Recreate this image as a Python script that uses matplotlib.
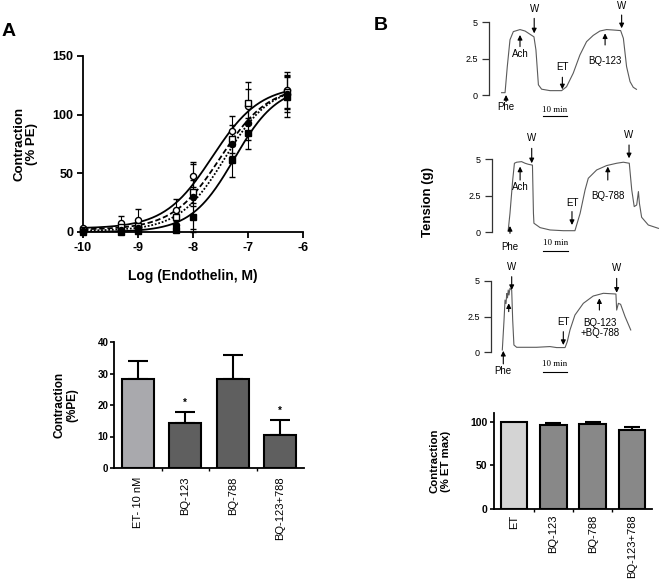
import matplotlib
matplotlib.use("Agg")
import matplotlib.pyplot as plt
import numpy as np

plt.rcParams['font.family'] = ['Liberation Sans', 'DejaVu Sans']
plt.rcParams['axes.unicode_minus'] = False

# ---------------- Data ----------------
log_conc = [-10, -9.3, -9, -8.3, -8, -7.3, -7, -6.3]
open_circle = [3, 8, 10.5, 18.7, 48, 86, 107, 121]
open_circle_err = [1, 6, 9, 9, 10, 13, 15, 15]
open_square = [2, 4, 5, 13, 34.5, 79, 110, 119]
open_square_err = [1, 4, 5, 6, 10, 12, 18, 14]
filled_circle = [1, 2, 3, 6, 30, 75, 92.5, 118]
filled_circle_err = [1, 3, 4, 5, 30, 10, 14, 16]
filled_square = [0, 0, 0.5, 2, 12.5, 61, 84, 115]
filled_square_err = [0.5, 1, 1, 2, 10, 14, 13, 17]

# Hill-fit parameters (bottom, top, logEC50, slope)
fit_open_circle = [3, 125, -7.65, 1.0]
fit_open_square = [2, 125, -7.5, 1.0]
fit_filled_circle = [1, 125, -7.42, 1.05]
fit_filled_square = [0, 125, -7.25, 1.1]

barA_labels = ["ET- 10 nM", "BQ-123", "BQ-788", "BQ-123+788"]
barA_values = [28.3, 14.3, 28.1, 10.5]
barA_err = [5.7, 3.6, 7.7, 4.7]
barA_star = [False, True, False, True]

barB_labels = ["ET", "BQ-123", "BQ-788", "BQ-123+788"]
barB_values = [100, 96.3, 97.5, 90.5]
barB_err = [0, 1.8, 1.8, 3.6]

# Tension traces (time in min, tension in g)
trace1_t = [5.1, 6.5, 7.4, 8.5, 9.85, 12.55, 14.6, 17.3, 18.2, 19.0, 20.0, 21.3, 24.7, 29.4,
            31.4, 34.1, 36.8, 39.5, 42.2, 44.9, 47.6, 50.3, 53.3, 54.4, 55.7, 57.1, 58.4, 59.7]
trace1_v = [0.16, 0.16, 1.95, 3.8, 4.36, 4.5, 4.4, 4.1, 4.0, 3.1, 0.7, 0.4, 0.3, 0.3,
            0.57, 1.5, 2.75, 3.67, 4.1, 4.4, 4.5, 4.47, 4.43, 3.9, 1.95, 0.92, 0.53, 0.39]
trace2_t = [6.7, 7.4, 8.5, 9.2, 10.1, 12.1, 13.5, 14.8, 16.5, 16.9, 17.1, 19.6, 23.6, 29.0,
            33.7, 35.8, 37.8, 39.1, 42.5, 46.5, 50.6, 53.3, 55.7, 56.7, 57.7, 58.7, 59.4,
            59.8, 60.7, 63.4, 67.5]
trace2_v = [0.16, 1.3, 3.58, 4.73, 4.8, 4.84, 4.73, 4.66, 4.6, 1.3, 0.62, 0.32, 0.16, 0.11,
            0.11, 1.3, 2.9, 3.7, 4.27, 4.57, 4.73, 4.8, 4.73, 2.9, 1.76, 1.87, 2.79,
            1.99, 1.03, 0.5, 0.27]
trace3_t = [4.7, 5.4, 5.8, 6.2, 6.5, 6.8, 7.1, 7.4, 7.8, 8.5, 8.9, 9.4, 10.5, 18.6, 24.0,
            26.7, 30.1, 31.0, 32.1, 34.1, 37.5, 41.5, 45.6, 50.7, 51.0, 51.7, 52.6, 54.4, 56.7]
trace3_v = [0.16, 2.26, 3.65, 3.4, 4.1, 3.8, 4.35, 4.0, 4.47, 4.35, 2.26, 0.51, 0.35, 0.35, 0.4,
            0.33, 0.33, 0.74, 1.56, 2.6, 3.42, 3.93, 4.12, 4.07, 2.95, 3.42, 3.35, 2.49, 1.56]

# ---------------- Figure ----------------
W, H = 661, 580
fig = plt.figure(figsize=(W / 100, H / 100), dpi=100)


def add_ax(left, top, right, bottom):
    return fig.add_axes([left / W, (H - bottom) / H, (right - left) / W, (bottom - top) / H])


def hill(x, p):
    b, t, ec, s = p
    return b + (t - b) / (1 + 10 ** ((ec - x) * s))


# ---- Panel A: concentration-response ----
ax1 = add_ax(83, 56, 303, 232)
xs = np.linspace(-10, -6.3, 200)
ax1.plot(xs, hill(xs, fit_open_circle), color='black', lw=1.3, ls='-')
ax1.plot(xs, hill(xs, fit_open_square), color='black', lw=1.3, ls=(0, (3, 1.5)))
ax1.plot(xs, hill(xs, fit_filled_circle), color='black', lw=1.3, ls=(0, (1, 1)))
ax1.plot(xs, hill(xs, fit_filled_square), color='black', lw=1.3, ls='-')
series = [(open_circle, open_circle_err, 'o', 'white'),
          (open_square, open_square_err, 's', 'white'),
          (filled_circle, filled_circle_err, 'o', 'black'),
          (filled_square, filled_square_err, 's', 'black')]
for vals, errs, mk, fc in series:
    ax1.errorbar(log_conc, vals, yerr=errs, fmt=mk, ms=4.4, mfc=fc, mec='black', mew=1.0,
                 ecolor='black', elinewidth=0.8, capsize=2.2, capthick=0.8, clip_on=False, zorder=3)
ax1.set_xlim(-10, -6)
ax1.set_ylim(0, 150)
ax1.set_xticks([-10, -9, -8, -7, -6])
ax1.set_yticks([0, 50, 100, 150])
for s in ['top', 'right']:
    ax1.spines[s].set_visible(False)
for s in ['left', 'bottom']:
    ax1.spines[s].set_linewidth(1.3)
ax1.tick_params(width=1.3, length=4, labelsize=9, pad=3)
for lab in ax1.get_xticklabels() + ax1.get_yticklabels():
    lab.set_fontweight('bold')
ax1.set_xlabel("Log (Endothelin, M)", fontsize=10, fontweight='bold', labelpad=11)
ax1.set_ylabel("Contraction\n(% PE)", fontsize=9.5, fontweight='bold', labelpad=10, linespacing=1.1)

# ---- Panel A: bars ----
ax2 = add_ax(114, 342, 304, 468)
xpos = np.arange(len(barA_labels))
ax2.bar(xpos, barA_values, width=0.67, color=['#a9a9ad', '#5f5f5f', '#5f5f5f', '#5f5f5f'],
        edgecolor='black', linewidth=1.5, zorder=2)
ax2.errorbar(xpos, barA_values, yerr=[[0] * 4, barA_err], fmt='none', ecolor='black',
             elinewidth=1.5, capsize=7, capthick=1.5, zorder=1)
for x, v, e, st in zip(xpos, barA_values, barA_err, barA_star):
    if st:
        ax2.text(x, v + e + 1.2, "*", ha='center', va='bottom', fontsize=7, fontweight='bold')
ax2.set_xlim(-0.5, 3.5)
ax2.set_ylim(0, 40)
ax2.set_yticks([0, 10, 20, 30, 40])
ax2.set_xticks(xpos)
ax2.set_xticklabels(barA_labels, rotation=90, fontsize=8)
ax2.set_xticks([0.5, 1.5, 2.5], minor=True)
ax2.tick_params(axis='x', which='major', length=0, pad=6)
ax2.tick_params(axis='x', which='minor', length=2, width=1)
ax2.tick_params(axis='y', length=3, width=1.2, labelsize=7, pad=1)
for lab in ax2.get_yticklabels():
    lab.set_fontweight('bold')
for s in ['top', 'right']:
    ax2.spines[s].set_visible(False)
for s in ['left', 'bottom']:
    ax2.spines[s].set_linewidth(1.3)
ax2.set_ylabel("Contraction\n(%PE)", fontsize=8.5, fontweight='bold', labelpad=14, linespacing=1.1)

# ---- Panel B: traces ----
trace_color = '#5a5a5a'


def trace_axes(left, y0, y5):
    ax = add_ax(left, y5, left + 69 * 2.47, y0)
    ax.set_xlim(0, 69)
    ax.set_ylim(0, 5)
    for s in ['top', 'right', 'bottom']:
        ax.spines[s].set_visible(False)
    ax.spines['left'].set_linewidth(0.9)
    ax.spines['left'].set_color('#333333')
    ax.set_xticks([])
    ax.set_yticks([0, 2.5, 5])
    ax.set_yticklabels(["0", "2.5", "5"])
    ax.tick_params(axis='y', length=5, width=0.9, color='#333333', labelsize=6.5, pad=3)
    ax.patch.set_visible(False)
    return ax


def arrow(ax, t, tip, tail):
    ax.annotate('', xy=(t, tip), xytext=(t, tail), annotation_clip=False,
                arrowprops=dict(arrowstyle='-|>', color='black', lw=0.8, mutation_scale=7,
                                shrinkA=0, shrinkB=0))


def label(ax, t, v, s):
    ax.text(t, v, s, ha='center', va='center', fontsize=7, clip_on=False)


def scalebar(ax, t0, v_line, v_text):
    ax.plot([t0, t0 + 10], [v_line, v_line], color='black', lw=0.8, clip_on=False)
    ax.text(t0 + 5, v_text, "10 min", ha='center', va='center', fontsize=6.5,
            family='Liberation Serif', clip_on=False)


# Trace 1
t1 = trace_axes(489, 95, 22.3)
t1.plot(trace1_t, trace1_v, color=trace_color, lw=0.8, clip_on=False)
arrow(t1, 6.9, 0.0, -0.46); label(t1, 6.9, -0.85, "Phe")
arrow(t1, 12.55, 4.13, 3.33); label(t1, 12.55, 2.82, "Ach")
arrow(t1, 18.3, 4.24, 5.27); label(t1, 18.3, 5.9, "W")
arrow(t1, 29.7, 0.39, 1.22); label(t1, 29.7, 1.95, "ET")
arrow(t1, 47.0, 4.24, 3.44); label(t1, 47.0, 2.36, "BQ-123")
arrow(t1, 53.7, 4.59, 5.5); label(t1, 53.7, 6.12, "W")
scalebar(t1, 21.7, -1.42, -1.05)

# Trace 2
t2 = trace_axes(491.7, 232.3, 159.3)
t2.plot(trace2_t, trace2_v, color=trace_color, lw=0.8, clip_on=False)
arrow(t2, 7.4, 0.43, -0.07); label(t2, 7.4, -1.03, "Phe")
arrow(t2, 11.5, 4.5, 3.58); label(t2, 11.5, 3.13, "Ach")
arrow(t2, 16.2, 4.73, 5.75); label(t2, 16.2, 6.44, "W")
arrow(t2, 32.5, 0.5, 1.42); label(t2, 32.5, 2.03, "ET")
arrow(t2, 47.0, 4.5, 3.58); label(t2, 47.0, 2.49, "BQ-788")
arrow(t2, 55.6, 5.07, 5.98); label(t2, 55.6, 6.67, "W")
scalebar(t2, 20.8, -1.28, -0.71)

# Trace 3
t3 = trace_axes(490.7, 352.3, 280.7)
t3.plot(trace3_t, trace3_v, color=trace_color, lw=0.8, clip_on=False)
arrow(t3, 5.1, 0.1, -0.81); label(t3, 5.1, -1.28, "Phe")
arrow(t3, 7.3, 3.42, 2.84)
arrow(t3, 8.5, 4.35, 5.28); label(t3, 8.5, 5.98, "W")
arrow(t3, 29.4, 0.51, 1.44); label(t3, 29.4, 2.09, "ET")
arrow(t3, 44.0, 3.77, 2.95)
t3.text(44.3, 1.67, "BQ-123\n+BQ-788", ha='center', va='center', fontsize=7,
        linespacing=1.0, clip_on=False)
arrow(t3, 51.0, 4.16, 5.16); label(t3, 51.0, 5.86, "W")
scalebar(t3, 21.0, -1.4, -0.81)

fig.text(428 / W, 1 - 201.7 / H, "Tension (g)", rotation=90, ha='center', va='center',
         fontsize=9.5, fontweight='bold')

# ---- Panel B: bars ----
ax3 = add_ax(494.3, 413, 651.7, 509)
xposB = np.arange(len(barB_labels))
ax3.bar(xposB, barB_values, width=0.67, color=['#d4d4d4', '#888888', '#888888', '#888888'],
        edgecolor='black', linewidth=1.5, zorder=2)
ax3.errorbar(xposB[1:], barB_values[1:], yerr=[[0] * 3, barB_err[1:]], fmt='none',
             ecolor='black', elinewidth=1.5, capsize=5.5, capthick=1.5, zorder=1)
ax3.set_xlim(-0.5, 3.5)
ax3.set_ylim(0, 110)
ax3.set_yticks([0, 50, 100])
ax3.set_xticks(xposB)
ax3.set_xticklabels(barB_labels, rotation=90, fontsize=8)
ax3.set_xticks([0.5, 1.5, 2.5], minor=True)
ax3.tick_params(axis='x', which='major', length=0, pad=4)
ax3.tick_params(axis='x', which='minor', length=2, width=1)
ax3.tick_params(axis='y', length=3, width=1.2, labelsize=7.5, pad=2)
for lab in ax3.get_yticklabels():
    lab.set_fontweight('bold')
for s in ['top', 'right']:
    ax3.spines[s].set_visible(False)
for s in ['left', 'bottom']:
    ax3.spines[s].set_linewidth(1.3)
ax3.set_ylabel("Contraction\n(% ET max)", fontsize=8.2, fontweight='bold', labelpad=14,
               linespacing=1.1)

# Panel letters
fig.text(9 / W, 1 - 31 / H, "A", ha='center', va='center', fontsize=14, fontweight='bold')
fig.text(381 / W, 1 - 26 / H, "B", ha='center', va='center', fontsize=14, fontweight='bold')

fig.savefig("out.png", dpi=100)
